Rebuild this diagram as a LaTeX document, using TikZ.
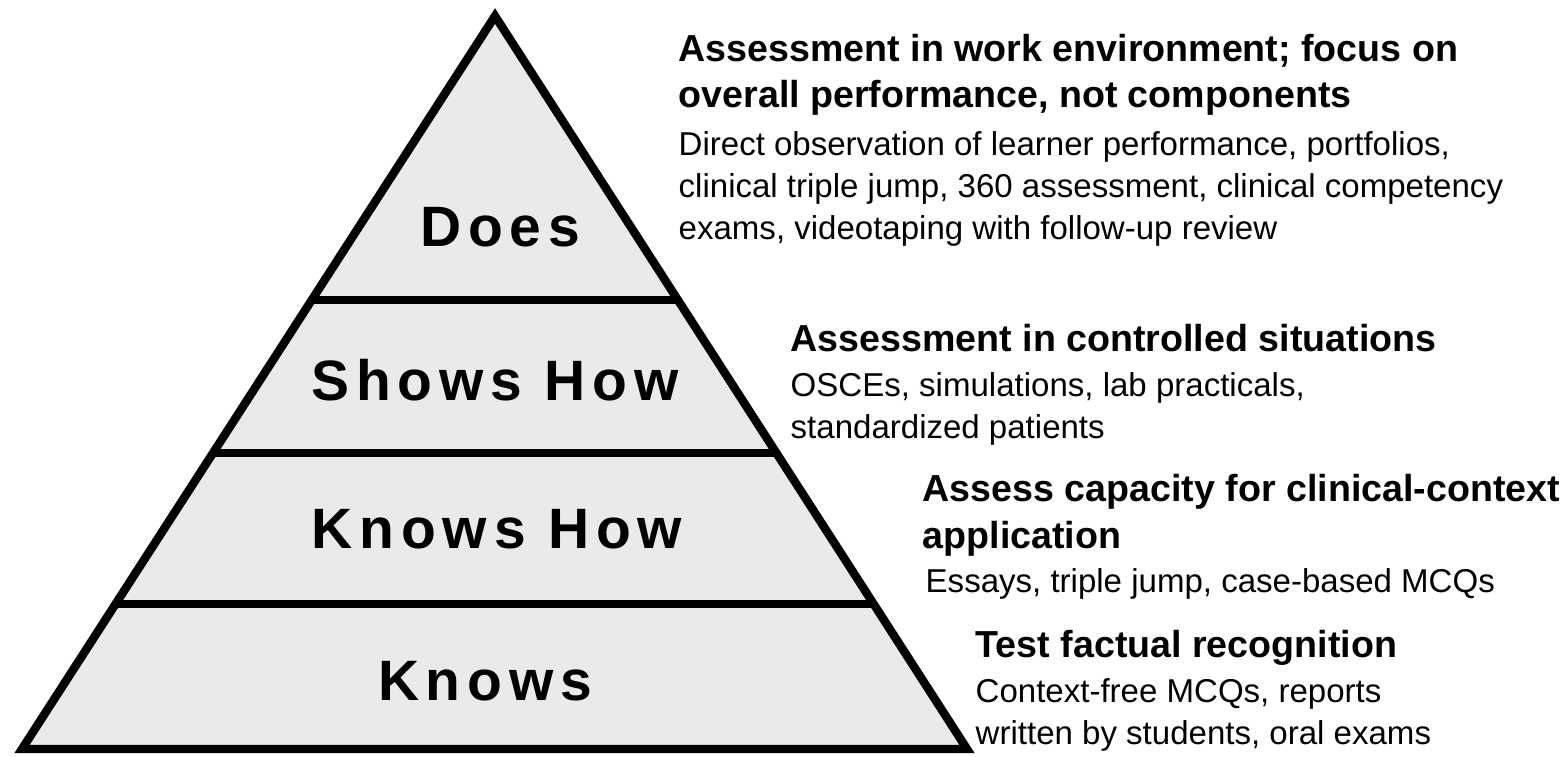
\documentclass[tikz,border=0pt]{standalone}
\usepackage{fontspec}
\setmainfont{Liberation Sans}
\newfontfamily\tierfont[LetterSpace=12]{Liberation Sans}
\usetikzlibrary{calc}

\definecolor{pyrgray}{HTML}{EAEAEA}

\tikzset{
  tierline/.style={black, line width=2.4pt},
  tier/.style={font=\tierfont\bfseries\fontsize{16.2}{19}\selectfont, anchor=base, inner sep=0},
  head/.style={font=\bfseries\fontsize{10.7}{13.1}\selectfont, align=left, anchor=north west, inner sep=0},
  body/.style={font=\fontsize{9.4}{11.95}\selectfont, align=left, anchor=north west, inner sep=0},
}

\begin{document}
\begin{tikzpicture}[x=1cm, y=-1cm]
\useasboundingbox (0,0) rectangle (15.64,7.56);
\coordinate (apex) at (4.95,0.16);
\coordinate (bl) at (0.22,7.49);
\coordinate (br) at (9.67,7.49);
\filldraw[tierline, fill=pyrgray, line join=miter] (bl) -- (apex) -- (br) -- cycle;
\foreach \t in {0.3874,0.5962,0.8022} {
 \draw[tierline] ($(apex)!\t!(bl)$) -- ($(apex)!\t!(br)$);
}
\node[tier] (does) at (5.00,2.46) {Does};
\node[tier] (shows) at (4.95,4.00) {Shows How};
\node[tier] (knowshow) at (4.97,5.48) {Knows How};
\node[tier] (knows) at (4.85,7.00) {Knows};

\node[head] (h1) at (6.78,0.34) {Assessment in work environment; focus on\\overall performance, not components};
\node[body] (b1) at (6.78,1.31) {Direct observation of learner performance, portfolios,\\clinical triple jump, 360 assessment, clinical competency\\exams, videotaping with follow-up review};
\node[head] (h2) at (7.90,3.24) {Assessment in controlled situations};
\node[body] (b2) at (7.90,3.72) {OSCEs, simulations, lab practicals,\\standardized patients};
\node[head] (h3) at (9.22,4.74) {Assess capacity for clinical-context\\application};
\node[body] (b3) at (9.25,5.68) {Essays, triple jump, case-based MCQs};
\node[head] (h4) at (9.75,6.30) {Test factual recognition};
\node[body] (b4) at (9.75,6.78) {Context-free MCQs, reports\\written by students, oral exams};
\end{tikzpicture}
\end{document}
